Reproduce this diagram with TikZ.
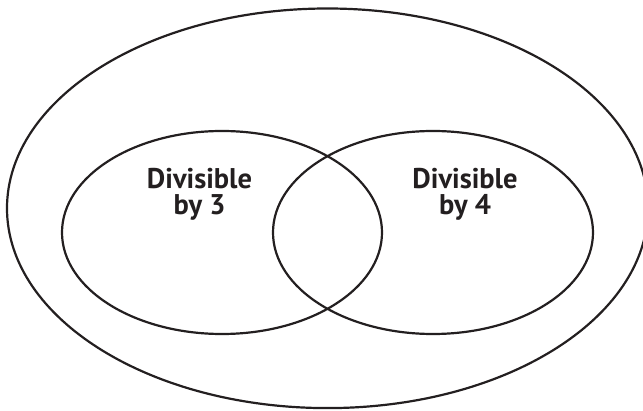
\documentclass[tikz,border=0pt]{standalone}
\usepackage{fontspec}
\setmainfont{PT Sans}
\definecolor{ink}{HTML}{231F20}
\tikzset{
  setline/.style={draw=ink, line width=2.2pt},
  lbl/.style={font=\bfseries\fontsize{28.5}{30}\selectfont, text=ink, anchor=base, inner sep=0pt}
}
\begin{document}
\begin{tikzpicture}[x=1pt,y=-1pt]
\useasboundingbox (0,0) rectangle (643,411);
\begin{scope}
\clip (0,0) rectangle (643,411);
\draw[setline] (327.5,208.3) ellipse [x radius=320.5, y radius=199.8];
\end{scope}
\draw[setline] (222,232.5) ellipse [x radius=160, y radius=101.5];
\draw[setline] (433,232.5) ellipse [x radius=160, y radius=101.5];
\node[lbl] (a1) at (199.5,189) {Divisible};
\node[lbl] (a2) at (199.5,215) {by 3};
\node[lbl] (b1) at (465,189) {Divisible};
\node[lbl] (b2) at (465,215) {by 4};
\end{tikzpicture}
\end{document}
